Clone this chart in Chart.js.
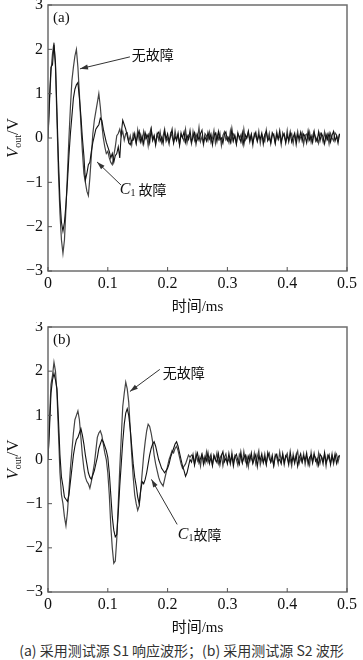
<!DOCTYPE html>
<html>
<head>
<meta charset="utf-8">
<script src="https://cdn.jsdelivr.net/npm/chart.js@4"></script>
<style>
  body { margin: 0; background: #fff; width: 363px; height: 660px; position: relative; overflow: hidden; }
  canvas { position: absolute; left: 0; }
  #cA { top: 0; }
  #cB { top: 322px; }
  #caption { position: absolute; top: 640px; left: 0; width: 363px; text-align: center;
    font: 14px "Noto Sans CJK SC", "Liberation Sans", sans-serif; color: #333; white-space: nowrap; }
</style>
</head>
<body>
<canvas id="cA" width="363" height="314"></canvas>
<canvas id="cB" width="363" height="313"></canvas>
<div id="caption">(a) 采用测试源 S1 响应波形；(b) 采用测试源 S2 波形</div>
<script>
// sample spacing of the recorded waveforms, ms
const TIME_STEP = 0.0025;

const xTicks = [0, 0.1, 0.2, 0.3, 0.4, 0.5];
const yTicks = [-3, -2, -1, 0, 1, 2, 3];

// (a) source S1 - no fault
const noFaultA_head = [0, 0.8, 1.5, 1.9, 2.15, 1.6, 0.4, -0.8, -1.7, -2.3,
  -2.6, -2.3, -1.6, -0.8, 0.0, 0.7, 1.3, 1.6, 1.85, 2.0,
  1.6, 1.0, 0.3, -0.3, -0.8, -1.0, -1.2, -1.3, -0.9, -0.4,
  0.1, 0.4, 0.6, 0.8, 1.0, 0.7, 0.3, 0.0, -0.2, -0.35,
  -0.3, -0.45, -0.55, -0.6, -0.4, -0.2, 0.05, 0.1, 0.2, 0.05,
  0.15, -0.05, 0.1];
const noFaultA_tail = [0.12, -0.08, 0.05, -0.15, 0.1, 0.02, -0.12, 0.18, -0.05, 0.08,
  -0.1, 0.15, -0.02, 0.06, -0.18, 0.1, 0.22, -0.06, 0.03, -0.12,
  0.09, -0.04, 0.14, -0.1, 0.05, 0.2, -0.08, 0.0, -0.14, 0.11,
  0.04, -0.09, 0.16, -0.03, 0.07, -0.16, 0.12, 0.01, -0.07, 0.19,
  -0.11, 0.06, 0.02, -0.13, 0.15, -0.05, 0.09, -0.02, 0.24, -0.08,
  0.03, -0.15, 0.1, 0.05, -0.06, 0.13, -0.1, 0.0, 0.17, -0.12,
  0.08, -0.03, 0.11, -0.17, 0.06, 0.14, -0.04, 0.02, -0.1, 0.16,
  -0.07, 0.09, 0.04, -0.14, 0.12, -0.02, 0.07, -0.11, 0.2, -0.05,
  0.01, 0.13, -0.09, 0.06, -0.16, 0.1, 0.03, -0.06, 0.15, -0.12,
  0.08, 0.0, -0.08, 0.18, -0.04, 0.11, -0.13, 0.05, 0.09, -0.1,
  0.14, -0.02, 0.06, -0.15, 0.12, 0.03, -0.07, 0.17, -0.09, 0.04,
  0.1, -0.12, 0.07, -0.03, 0.15, -0.08, 0.02, 0.12, -0.14, 0.06,
  0.09, -0.05, 0.13, -0.1, 0.04, 0.16, -0.07, 0.01, -0.12, 0.11,
  0.05, -0.09, 0.14, -0.04, 0.08, -0.13, 0.1, 0.0, -0.06, 0.12,
  0.07, -0.04, 0.1];

// (a) source S1 - C1 fault
const faultA_head = [0, 0.9, 1.6, 1.65, 2.1, 1.7, 0.6, -0.5, -1.4, -1.9,
  -2.1, -1.9, -1.5, -1.0, -0.4, 0.1, 0.5, 0.9, 1.1, 1.2,
  1.25, 0.9, 0.5, 0.0, -0.4, -0.95, -0.8, -0.6, -0.55, -0.3,
  -0.1, 0.05, 0.2, 0.25, 0.3, 0.45, 0.4, 0.2, 0.05, -0.1,
  -0.2, -0.3, -0.45, -0.35, -0.55, -0.4, -0.35, -0.2, -0.45, 0.1,
  0.4, 0.3, 0.2, 0.05, -0.1, -0.15, -0.05];
const faultA_tail = [-0.05, 0.1, -0.12, 0.07, 0.16, -0.09, 0.03, -0.14, 0.12, 0.0,
  0.08, -0.11, 0.19, -0.04, 0.06, -0.16, 0.09, 0.13, -0.07, 0.02,
  -0.13, 0.15, -0.02, 0.1, -0.08, 0.05, 0.2, -0.12, 0.04, -0.06,
  0.11, -0.15, 0.08, 0.01, 0.14, -0.1, 0.06, -0.03, 0.17, -0.09,
  0.02, 0.12, -0.14, 0.07, -0.05, 0.1, 0.18, -0.11, 0.03, -0.07,
  0.13, -0.02, 0.09, -0.16, 0.05, 0.11, -0.08, 0.15, -0.04, 0.0,
  -0.12, 0.08, 0.14, -0.06, 0.02, -0.1, 0.21, -0.07, 0.06, -0.13,
  0.1, 0.03, -0.09, 0.12, -0.15, 0.07, 0.0, 0.16, -0.05, 0.09,
  -0.11, 0.04, 0.13, -0.08, 0.06, -0.02, 0.11, -0.14, 0.08, 0.15,
  -0.06, 0.01, -0.1, 0.12, 0.05, -0.13, 0.09, -0.03, 0.17, -0.08,
  0.04, 0.1, -0.12, 0.06, -0.05, 0.14, -0.09, 0.02, 0.11, -0.15,
  0.07, -0.01, 0.13, -0.07, 0.09, 0.03, -0.11, 0.16, -0.04, 0.05,
  -0.1, 0.12, 0.0, -0.08, 0.14, -0.06, 0.1, 0.02, -0.13, 0.08,
  -0.03, 0.11, -0.09, 0.06, 0.15, -0.07, 0.04, -0.12, 0.09];

// (b) source S2 - no fault
const noFaultB_head = [0, 0.9, 1.7, 1.9, 2.2, 2.0, 1.5, 0.6, -0.3, -0.8,
  -1.0, -1.3, -1.5, -1.2, -0.7, -0.2, 0.2, 0.6, 0.9, 1.0,
  1.1, 0.9, 0.5, 0.1, -0.2, -0.4, -0.5, -0.55, -0.65, -0.5,
  -0.3, -0.1, 0.2, 0.5, 0.6, 0.65, 0.55, 0.35, 0.15, 0.0,
  -0.3, -0.8, -1.5, -2.0, -2.35, -2.3, -1.8, -1.0, -0.2, 0.5,
  1.2, 1.5, 1.75, 1.6, 1.3, 0.7, 0.1, -0.4, -0.8, -1.0,
  -1.15, -1.05, -0.7, -0.3, 0.1, 0.4, 0.65, 0.8, 0.75, 0.6,
  0.4, 0.1, -0.1, -0.25, -0.4, -0.5, -0.55, -0.6, -0.45, -0.3,
  -0.15, 0.0, 0.1, 0.2, 0.15, 0.25, 0.3, 0.2, 0.05, -0.1,
  -0.2, -0.15, -0.1, 0.0, 0.1, 0.05, 0.1];
const noFaultB_tail = [0.08, -0.1, 0.14, -0.03, 0.06, -0.15, 0.11, 0.02, -0.08, 0.17,
  -0.06, 0.04, 0.12, -0.12, 0.07, -0.02, 0.15, -0.09, 0.03, 0.1,
  -0.14, 0.05, 0.13, -0.05, 0.01, -0.11, 0.16, -0.07, 0.09, 0.0,
  -0.13, 0.12, 0.04, -0.08, 0.18, -0.04, 0.07, -0.16, 0.1, 0.03,
  -0.07, 0.14, -0.1, 0.06, 0.2, -0.12, 0.02, -0.05, 0.13, -0.09,
  0.08, 0.15, -0.06, 0.01, -0.14, 0.11, 0.05, -0.1, 0.17, -0.03,
  0.09, -0.12, 0.06, 0.14, -0.07, 0.02, -0.15, 0.12, -0.04, 0.08,
  0.19, -0.09, 0.03, -0.06, 0.13, -0.11, 0.07, 0.0, -0.13, 0.16,
  -0.05, 0.1, 0.04, -0.12, 0.14, -0.08, 0.06, -0.02, 0.11, -0.15,
  0.09, 0.01, -0.07, 0.13, -0.1, 0.05, 0.12, -0.06, 0.08];

// (b) source S2 - C1 fault
const faultB_head = [0, 0.7, 1.5, 1.8, 1.95, 1.8, 1.6, 0.9, 0.1, -0.4,
  -0.6, -0.85, -0.9, -0.95, -0.8, -0.5, -0.2, 0.1, 0.3, 0.45,
  0.5, 0.6, 0.7, 0.55, 0.35, 0.1, -0.1, -0.3, -0.4, -0.45,
  -0.35, -0.25, -0.1, 0.05, 0.25, 0.35, 0.45, 0.4, 0.3, 0.2,
  0.05, -0.3, -0.8, -1.3, -1.6, -1.75, -1.7, -1.2, -0.6, -0.1,
  0.4, 0.8, 1.05, 1.15, 1.0, 0.7, 0.3, -0.1, -0.4, -0.6,
  -0.85, -1.0, -0.7, -0.5, -0.55, -0.45, -0.3, -0.1, 0.1, 0.25,
  0.35, 0.4, 0.3, 0.15, 0.0, -0.1, -0.2, -0.25, -0.3, -0.25,
  -0.2, -0.1, 0.05, 0.15, 0.25, 0.35, 0.4, 0.3, 0.15, 0.0,
  -0.15, -0.25, -0.38, -0.3, -0.15, 0.0];
const faultB_tail = [-0.06, 0.11, -0.13, 0.04, 0.15, -0.08, 0.02, 0.12, -0.11, 0.07,
  -0.03, 0.16, -0.09, 0.05, -0.14, 0.1, 0.01, -0.07, 0.13, -0.12,
  0.08, 0.18, -0.05, 0.03, -0.1, 0.14, -0.06, 0.09, -0.15, 0.06,
  0.12, -0.02, -0.11, 0.17, -0.07, 0.04, 0.1, -0.13, 0.07, -0.04,
  0.15, -0.09, 0.02, 0.11, -0.16, 0.08, -0.01, 0.13, -0.08, 0.05,
  -0.12, 0.16, 0.03, -0.06, 0.1, -0.14, 0.07, 0.12, -0.03, 0.0,
  -0.1, 0.14, -0.07, 0.09, 0.04, -0.12, 0.18, -0.05, 0.06, -0.09,
  0.11, -0.15, 0.03, 0.13, -0.06, 0.08, -0.02, 0.15, -0.11, 0.05,
  0.1, -0.08, 0.14, -0.04, 0.02, -0.13, 0.12, 0.06, -0.1, 0.16,
  -0.07, 0.03, 0.11, -0.12, 0.08, -0.05, 0.13, -0.09, 0.04, 0.1];

const SERIF = '"Liberation Serif", "Times New Roman", serif';
const CJK = '"Noto Sans CJK SC", sans-serif';

// label runs
const noFaultLabel = [{ t: '无故障', font: '14px ' + CJK }];
const c1LabelA = [
  { t: 'C', font: 'italic 16px ' + SERIF },
  { t: '1', font: '10px ' + SERIF, dy: 4 },
  { t: ' 故障', font: '14px ' + CJK }
];
const c1LabelB = [
  { t: 'C', font: 'italic 16px ' + SERIF },
  { t: '1', font: '10px ' + SERIF, dy: 4 },
  { t: '故障', font: '14px ' + CJK }
];

const toPoints = arr => arr.map((v, i) => ({ x: i * TIME_STEP, y: v }));

function drawRuns(ctx, runs, x, y) {
  runs.forEach(r => {
    ctx.font = r.font;
    ctx.fillText(r.t, x, y + (r.dy || 0));
    x += ctx.measureText(r.t).width;
  });
}
function runsWidth(ctx, runs) {
  let w = 0;
  runs.forEach(r => { ctx.font = r.font; w += ctx.measureText(r.t).width; });
  return w;
}

function arrow(ctx, x0, y0, x1, y1) {
  ctx.beginPath();
  ctx.moveTo(x0, y0);
  ctx.lineTo(x1, y1);
  ctx.stroke();
  const a = Math.atan2(y1 - y0, x1 - x0);
  ctx.beginPath();
  ctx.moveTo(x1, y1);
  ctx.lineTo(x1 - 8 * Math.cos(a) + 2.5 * Math.sin(a), y1 - 8 * Math.sin(a) - 2.5 * Math.cos(a));
  ctx.lineTo(x1 - 8 * Math.cos(a) - 2.5 * Math.sin(a), y1 - 8 * Math.sin(a) + 2.5 * Math.cos(a));
  ctx.closePath();
  ctx.fill();
}

const decor = {
  id: 'decor',
  afterDraw(chart, args, opts) {
    const { ctx, chartArea: a, scales: { x, y } } = chart;
    ctx.save();
    // frame
    ctx.strokeStyle = '#6e6e6e';
    ctx.lineWidth = 1.5;
    ctx.strokeRect(a.left, a.top, a.right - a.left, a.bottom - a.top);
    // inward ticks
    ctx.lineWidth = 1;
    ctx.strokeStyle = '#555';
    ctx.beginPath();
    x.ticks.forEach(t => {
      const px = x.getPixelForValue(t.value);
      ctx.moveTo(px, a.bottom); ctx.lineTo(px, a.bottom - 4);
    });
    y.ticks.forEach(t => {
      const py = y.getPixelForValue(t.value);
      ctx.moveTo(a.left, py); ctx.lineTo(a.left + 4, py);
    });
    ctx.stroke();

    // panel label
    ctx.fillStyle = '#111';
    ctx.textBaseline = 'middle';
    ctx.font = '15px ' + SERIF;
    ctx.fillText(opts.panel, a.left + 5, a.top + 13);

    // y title V_out/V, rotated
    const yRuns = [
      { t: 'V', font: 'italic 17px ' + SERIF },
      { t: 'out', font: '10px ' + SERIF, dy: 4 },
      { t: '/V', font: '17px ' + SERIF }
    ];
    const w = runsWidth(ctx, yRuns);
    ctx.save();
    ctx.translate(14, (a.top + a.bottom) / 2);
    ctx.rotate(-Math.PI / 2);
    drawRuns(ctx, yRuns, -w / 2, 0);
    ctx.restore();

    // annotations with arrows
    ctx.strokeStyle = '#333';
    ctx.fillStyle = '#333';
    ctx.lineWidth = 1;
    opts.notes.forEach(n => {
      arrow(ctx, x.getPixelForValue(n.from[0]), y.getPixelForValue(n.from[1]),
        x.getPixelForValue(n.to[0]), y.getPixelForValue(n.to[1]));
    });
    ctx.fillStyle = '#111';
    opts.notes.forEach(n => {
      drawRuns(ctx, n.runs, x.getPixelForValue(n.at[0]), y.getPixelForValue(n.at[1]));
    });
    ctx.restore();
  }
};

function makeChart(id, noFault, fault, panel, notes) {
  return new Chart(document.getElementById(id), {
    type: 'line',
    data: {
      datasets: [
        { data: toPoints(fault), borderColor: '#111', borderWidth: 1.1, pointRadius: 0, tension: 0 },
        { data: toPoints(noFault), borderColor: '#444', borderWidth: 1.2, pointRadius: 0, tension: 0 }
      ]
    },
    options: {
      responsive: false,
      animation: false,
      layout: { padding: { top: 5, right: 16, left: 0, bottom: 0 } },
      plugins: { legend: { display: false }, tooltip: { enabled: false }, decor: { panel, notes } },
      scales: {
        x: {
          type: 'linear', min: 0, max: 0.5,
          afterBuildTicks: s => { s.ticks = xTicks.map(v => ({ value: v })); },
          grid: { display: false, drawTicks: false },
          border: { display: false },
          ticks: { padding: 3, color: '#111', font: { family: SERIF, size: 16 },
            callback: v => String(Number(v.toFixed(1))) },
          title: { display: true, text: '时间/ms', color: '#111', padding: { top: 0, bottom: -2 },
            font: { family: '"Liberation Serif", "Noto Sans CJK SC", serif', size: 15 } },
          afterFit: s => { s.height = 43; s.paddingLeft = 0; s.paddingRight = 0; }
        },
        y: {
          min: -3, max: 3,
          afterBuildTicks: s => { s.ticks = yTicks.map(v => ({ value: v })); },
          grid: { display: false, drawTicks: false },
          border: { display: false },
          ticks: { padding: 5, color: '#111', font: { family: SERIF, size: 16 },
            callback: v => (v < 0 ? '\u2212' + Math.abs(v) : String(v)) },
          afterFit: s => { s.width = 48; s.paddingTop = 0; s.paddingBottom = 0; }
        }
      }
    },
    plugins: [decor]
  });
}

makeChart('cA', noFaultA_head.concat(noFaultA_tail), faultA_head.concat(faultA_tail), '(a)', [
  { runs: noFaultLabel, at: [0.140, 1.87], from: [0.137, 1.83], to: [0.0535, 1.56] },
  { runs: c1LabelA, at: [0.120, -1.17], from: [0.122, -1.06], to: [0.082, -0.54] }
]);

makeChart('cB', noFaultB_head.concat(noFaultB_tail), faultB_head.concat(faultB_tail), '(b)', [
  { runs: noFaultLabel, at: [0.192, 1.97], from: [0.187, 2.04], to: [0.137, 1.54] },
  { runs: c1LabelB, at: [0.217, -1.70], from: [0.216, -1.47], to: [0.173, -0.45] }
]);
</script>
</body>
</html>
